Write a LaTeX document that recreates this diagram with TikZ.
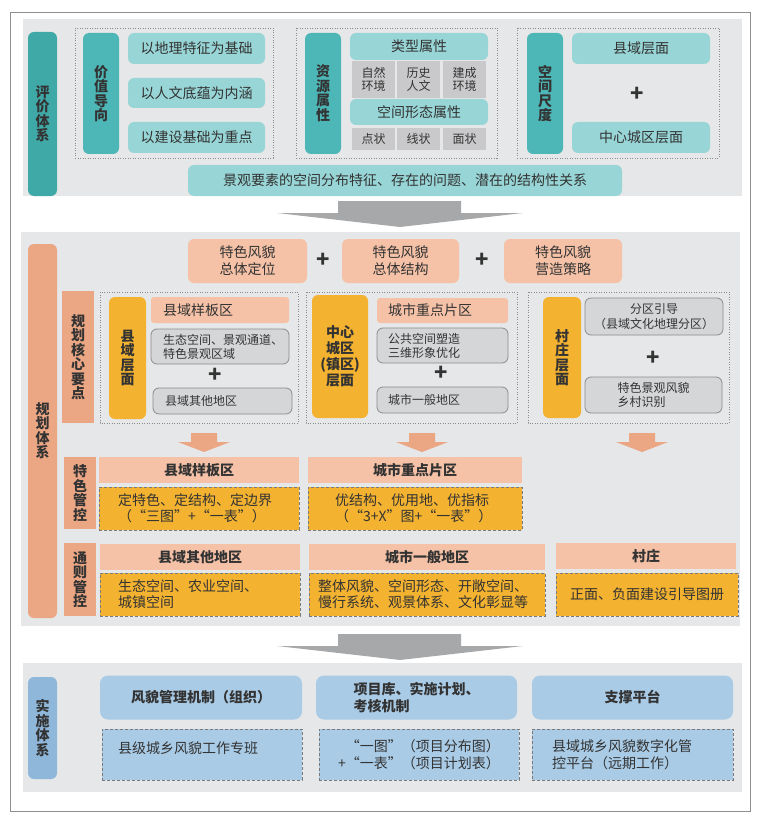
\documentclass[tikz,border=0pt]{standalone}
\usepackage{fontspec}
\setmainfont{Noto Sans CJK SC}
\usepackage{tikz}
\definecolor{bggray}{HTML}{E6E7E8}
\definecolor{framegray}{HTML}{8E8E90}
\definecolor{tealdark}{HTML}{3FA9A7}
\definecolor{tealmid}{HTML}{4DB7B7}
\definecolor{teallight}{HTML}{98D5D6}
\definecolor{cellgray}{HTML}{C9C9CB}
\definecolor{salmon}{HTML}{EBA684}
\definecolor{salmonlight}{HTML}{F5C2A7}
\definecolor{orangefill}{HTML}{F3B22F}
\definecolor{greyfill}{HTML}{D5D6D8}
\definecolor{greyline}{HTML}{8C8C8C}
\definecolor{bluedark}{HTML}{8FB7DA}
\definecolor{bluelight}{HTML}{A9CBE6}
\definecolor{arrowgray}{HTML}{A7A8AA}
\definecolor{dashgray}{HTML}{7A7A7C}
\definecolor{txt}{HTML}{333333}
\tikzstyle{vbar} = [rectangle, rounded corners=6pt, inner sep=0pt, align=center, text=txt, font=\bfseries\fontsize{14}{14.5}\selectfont]
\tikzstyle{tealbox} = [rectangle, rounded corners=6pt, fill=teallight, inner sep=0pt, align=center, text=txt, font=\fontsize{14}{17}\selectfont]
\tikzstyle{cell} = [rectangle, fill=cellgray, inner sep=0pt, align=center, text=txt, minimum width=43, font=\fontsize{12}{13}\selectfont]
\tikzstyle{plus} = [inner sep=0pt, text=txt, font=\bfseries\fontsize{22}{22}\selectfont]
\tikzstyle{peach} = [rectangle, rounded corners=6pt, fill=salmonlight, inner sep=0pt, align=center, text=txt, font=\fontsize{14}{17}\selectfont]
\tikzstyle{greybox} = [rectangle, rounded corners=6pt, fill=greyfill, draw=greyline, line width=0.8pt, inner sep=0pt, text=txt, font=\fontsize{12}{14}\selectfont]
\tikzstyle{header} = [rectangle, fill=salmonlight, inner sep=0pt, align=center, text=txt, font=\bfseries\fontsize{14}{17}\selectfont]
\tikzstyle{rulebox} = [rectangle, fill=orangefill, draw=dashgray, line width=0.9pt, dash pattern=on 3pt off 2pt, inner sep=0pt, text=txt, font=\fontsize{14}{16}\selectfont]
\tikzstyle{bluehead} = [rectangle, rounded corners=8pt, fill=bluelight, inner sep=0pt, text=txt, font=\bfseries\fontsize{14}{17}\selectfont]
\tikzstyle{bluedash} = [rectangle, fill=bluelight, draw=dashgray, line width=0.9pt, dash pattern=on 3pt off 2pt, inner sep=0pt, text=txt, font=\fontsize{14}{17}\selectfont]
\tikzstyle{dotbox} = [draw=greyline, line width=0.8pt, dash pattern=on 1pt off 1.5pt]

\begin{document}
\begin{tikzpicture}[x=1pt,y=-1pt]
\useasboundingbox (0,0) rectangle (761,821);
\draw [framegray, line width=0.8pt] (10,12) rectangle (750,811);

% evaluation system
\fill [bggray] (23,19) rectangle (742,196);
\node (pj) [vbar, fill=tealdark, minimum width=29, minimum height=164] at (42.5,114) {评\\价\\体\\系};
\draw [dotbox] (75,28) rectangle (273,158);
\draw [dotbox] (296,28) rectangle (497,158);
\draw [dotbox] (517,28) rectangle (719,158);
\node (jzdx) [vbar, fill=tealmid, minimum width=36, minimum height=121] at (101,93.5) {价\\值\\导\\向};
\node (jz1) [tealbox, minimum width=137, minimum height=31] at (196.5,48.5) {以地理特征为基础};
\node (jz2) [tealbox, minimum width=137, minimum height=30] at (196.5,93) {以人文底蕴为内涵};
\node (jz3) [tealbox, minimum width=137, minimum height=31] at (196.5,137.5) {以建设基础为重点};
\node (zysx) [vbar, fill=tealmid, minimum width=36, minimum height=121] at (323,93.5) {资\\源\\属\\性};
\node (lxsx) [tealbox, minimum width=138, minimum height=27] at (419,46.5) {类型属性};
\node (zr) [cell, minimum height=37] at (373.5,79.5) {自然\\环境};
\node (ls) [cell, minimum height=37] at (418.5,79.5) {历史\\人文};
\node (jc) [cell, minimum height=37] at (464.5,79.5) {建成\\环境};
\node (kjxt) [tealbox, minimum width=138, minimum height=26] at (419,112) {空间形态属性};
\node (dz) [cell, minimum height=22] at (373.5,139) {点状};
\node (xz) [cell, minimum height=22] at (418.5,139) {线状};
\node (mz) [cell, minimum height=22] at (464.5,139) {面状};
\node (kjcd) [vbar, fill=tealmid, minimum width=36, minimum height=121] at (545,93.5) {空\\间\\尺\\度};
\node (xycm) [tealbox, minimum width=138, minimum height=31] at (641,48.5) {县域层面};
\node (p0) [plus] at (637,94) {+};
\node (zxcm) [tealbox, minimum width=138, minimum height=31] at (641,137.5) {中心城区层面};
\node (gjys) [tealbox, minimum width=434, minimum height=31] at (405,180.5) {景观要素的空间分布特征、存在的问题、潜在的结构性关系};

% big arrows
\foreach \y in {201,634}
  \fill [arrowgray] (338,\y) -- (461,\y) -- (461,{\y+12}) -- (523,{\y+12}) -- (400,{\y+26}) -- (277,{\y+12}) -- (338,{\y+12}) -- cycle;

% planning system
\fill [bggray] (21,232) rectangle (740,626);
\node (gh) [vbar, fill=salmon, minimum width=29, minimum height=374] at (42.5,431) {规\\划\\体\\系};
\node (tw1) [peach, minimum width=119, minimum height=44] at (247.5,261) {特色风貌\\总体定位};
\node (p1) [plus] at (323,260) {+};
\node (tw2) [peach, minimum width=117, minimum height=44] at (400.5,261) {特色风貌\\总体结构};
\node (p2) [plus] at (482,260) {+};
\node (tw3) [peach, minimum width=118, minimum height=44] at (563,261) {特色风貌\\营造策略};

\node (hxyd) [vbar, rounded corners=0pt, fill=salmon, minimum width=32, minimum height=132] at (78,357) {规\\划\\核\\心\\要\\点};
\draw [dotbox] (100,292) rectangle (298,423);
\draw [dotbox] (306,292) rectangle (517,423);
\draw [dotbox] (528,292) rectangle (729,423);

\node (xyzm) [vbar, fill=orangefill, minimum width=37, minimum height=122] at (127.5,358) {县\\域\\层\\面};
\node (xybq) [peach, rounded corners=3pt, text width=114, align=left, minimum height=26, inner xsep=12] at (220,310) {县域样板区};
\node (stkj) [greybox, text width=114, align=left, minimum height=35, inner xsep=12] at (220,346.5) {生态空间、景观通道、\\特色景观区域};
\node (p3) [plus] at (215,375) {+};
\node (xyqt) [greybox, text width=115, align=left, minimum height=26, inner xsep=12] at (222.5,401) {县域其他地区};

\node (zxcq) [vbar, fill=orangefill, minimum width=56, minimum height=123, font=\bfseries\fontsize{14}{16}\selectfont] at (340,356.5) {中心\\城区\\(镇区)\\层面};
\node (cszd) [peach, rounded corners=3pt, text width=109, align=left, minimum height=25, inner xsep=11] at (442.5,310.5) {城市重点片区};
\node (ggkj) [greybox, text width=109, align=left, minimum height=35, inner xsep=11] at (442.5,345.5) {公共空间塑造\\三维形象优化};
\node (p4) [plus] at (441,373) {+};
\node (csyb) [greybox, text width=109, align=left, minimum height=26, inner xsep=11] at (442.5,400) {城市一般地区};

\node (czcm) [vbar, fill=orangefill, minimum width=38, minimum height=121] at (562,357.5) {村\\庄\\层\\面};
\node (fqyd) [greybox, align=center, minimum width=138, minimum height=37, font=\fontsize{12}{15}\selectfont] at (654,316.5) {分区引导\\（县域文化地理分区）};
\node (p5) [plus] at (653,358) {+};
\node (cztb) [greybox, align=left, minimum width=137, minimum height=36] at (653.5,395) {特色景观风貌\\乡村识别};

% small arrows
\foreach \x in {204,422,642}
  \fill [salmon] ({\x-13},433) -- ({\x+13},433) -- ({\x+13},442) -- ({\x+26},442) -- (\x,452) -- ({\x-26},442) -- ({\x-13},442) -- cycle;

\node (tsgk) [vbar, rounded corners=0pt, fill=salmon, minimum width=32, minimum height=72] at (80,493) {特\\色\\管\\控};
\node (ts1h) [header, minimum width=200, minimum height=26] at (199,470) {县域样板区};
\node (ts1b) [rulebox, text width=162, align=left, minimum height=43, inner xsep=19] at (199,508.5) {定特色、定结构、定边界\\（“三图”+“一表”）};
\node (ts2h) [header, minimum width=214, minimum height=26] at (415,470) {城市重点片区};
\node (ts2b) [rulebox, text width=160, align=left, minimum height=43, inner xsep=27] at (415,508.5) {优结构、优用地、优指标\\（“3+X”图+“一表”）};

\node (tzgk) [vbar, rounded corners=0pt, fill=salmon, minimum width=32, minimum height=73] at (80,579.5) {通\\则\\管\\控};
\node (tz1h) [header, minimum width=200, minimum height=26] at (200,557) {县域其他地区};
\node (tz1b) [rulebox, text width=164, align=left, minimum height=43, inner xsep=18] at (200,594.5) {生态空间、农业空间、\\城镇空间};
\node (tz2h) [header, minimum width=236, minimum height=26] at (427,557) {城市一般地区};
\node (tz2b) [rulebox, text width=218, align=left, minimum height=43, inner xsep=9] at (427,594.5) {整体风貌、空间形态、开敞空间、\\慢行系统、观景体系、文化彰显等};
\node (tz3h) [header, minimum width=180, minimum height=26] at (646,556) {村庄};
\node (tz3b) [rulebox, align=center, minimum width=182, minimum height=43] at (647,594.5) {正面、负面建设引导图册};

% implementation system
\fill [bggray] (23,663) rectangle (742,792);
\node (ss) [vbar, fill=bluedark, minimum width=29, minimum height=102] at (42.5,728) {实\\施\\体\\系};
\node (jz) [bluehead, minimum width=202, minimum height=44] at (201,697.5) {风貌管理机制（组织）};
\node (xmk) [bluehead, align=left, minimum width=201, minimum height=44] at (416.5,697.5) {项目库、实施计划、\\考核机制};
\node (zcpt) [bluehead, minimum width=201, minimum height=44] at (632.5,697.5) {支撑平台};
\node (zb) [bluedash, text width=168, align=left, minimum height=51, inner xsep=16] at (202,754.5) {县级城乡风貌工作专班\\[-4pt]~};
\node (yt) [bluedash, align=right, minimum width=200, minimum height=51] at (419,754.5) {“一图”（项目分布图）\\+“一表”（项目计划表）};
\node (pt) [bluedash, text width=161, align=left, minimum height=51, inner xsep=20] at (632.5,754.5) {县域城乡风貌数字化管\\控平台（远期工作）};
\end{tikzpicture}
\end{document}
